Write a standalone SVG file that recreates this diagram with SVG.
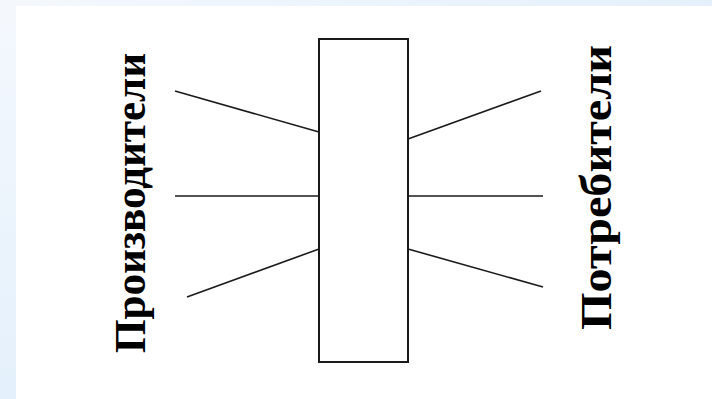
<svg xmlns="http://www.w3.org/2000/svg" width="712" height="399" viewBox="0 0 712 399">
  <defs>
    <linearGradient id="gLeft" x1="0" y1="0" x2="0" y2="1">
      <stop offset="0" stop-color="#f4f8fd"/>
      <stop offset="1" stop-color="#e4f0fb"/>
    </linearGradient>
    <linearGradient id="gTop" x1="0" y1="0" x2="1" y2="0">
      <stop offset="0" stop-color="#f4f8fd"/>
      <stop offset="1" stop-color="#e4f0fb"/>
    </linearGradient>
  </defs>
  <style>
    .ln { stroke: #1a1a1a; stroke-width: 1.6; fill: none; }
    .box { stroke: #1a1a1a; stroke-width: 2; fill: #ffffff; }
    .lbl { font-family: "Liberation Serif", "Times New Roman", serif; font-weight: bold; font-size: 44px; fill: #000; }
  </style>
  <rect x="0" y="0" width="712" height="399" fill="#ffffff"/>
  <rect x="0" y="0" width="16" height="399" fill="url(#gLeft)"/>
  <rect x="16" y="0" width="696" height="6" fill="url(#gTop)"/>

  <g id="connectors">
    <line class="ln" x1="175" y1="91" x2="319" y2="132"/>
    <line class="ln" x1="175" y1="196" x2="319" y2="196"/>
    <line class="ln" x1="187" y1="297" x2="319" y2="249"/>
    <line class="ln" x1="408" y1="139" x2="541" y2="91"/>
    <line class="ln" x1="408" y1="196" x2="543" y2="196"/>
    <line class="ln" x1="408" y1="249" x2="543" y2="287"/>
  </g>

  <g id="center">
    <rect class="box" x="319" y="39" width="89" height="323"/>
  </g>

  <g id="producers">
    <text class="lbl" transform="translate(145,353) rotate(-90)" textLength="300" lengthAdjust="spacingAndGlyphs">Производители</text>
  </g>

  <g id="consumers">
    <text class="lbl" transform="translate(611,330) rotate(-90)" textLength="285" lengthAdjust="spacingAndGlyphs">Потребители</text>
  </g>
</svg>
